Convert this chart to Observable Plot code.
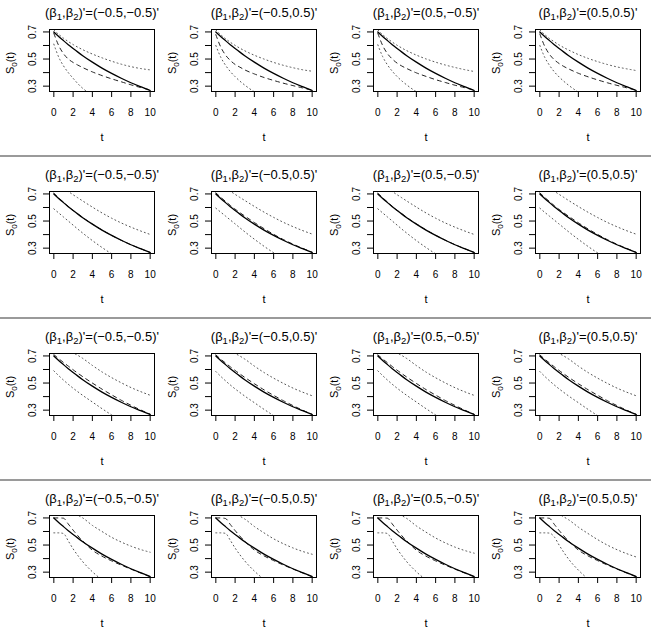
<!DOCTYPE html>
<html><head><meta charset="utf-8">
<script src="https://cdn.jsdelivr.net/npm/d3@7"></script>
<script src="https://cdn.jsdelivr.net/npm/@observablehq/plot@0.6"></script>
<style>
body{margin:0;background:#fff}
#root{position:relative;width:651px;height:634px;overflow:hidden;background:#fff;font-family:"Liberation Sans",Arial,sans-serif}
.cell{position:absolute}
.sep{position:absolute;left:0;width:651px;height:1.5px;background:#9a9a9a}
</style>
</head><body><div id="root"></div>
<script>
// ---- data ----
const tGrid = [0,0.5,1,1.5,2,2.5,3,4,5,6,7,8,9,10];
const xTicks = [0,2,4,6,8,10];
const yTicks = [0.3,0.4,0.5,0.6,0.7];
const yTickLabels = [0.3,0.5,0.7];
const colBetas = ["−0.5,−0.5","−0.5,0.5","0.5,−0.5","0.5,0.5"];

// true baseline survival (solid), same in every panel
const trueS0 = [0.700,0.667,0.636,0.606,0.578,0.551,0.525,0.477,0.433,0.394,0.358,0.325,0.296,0.268];

// row 1
const dashedRow1 = [
 [0.690,0.600,0.540,0.500,0.475,0.455,0.437,0.405,0.378,0.354,0.332,0.310,0.290,0.272],
 [0.680,0.590,0.530,0.490,0.460,0.440,0.420,0.390,0.364,0.342,0.322,0.304,0.287,0.270],
 [0.690,0.600,0.540,0.500,0.470,0.448,0.430,0.398,0.372,0.348,0.327,0.307,0.289,0.271],
 [0.685,0.595,0.535,0.495,0.467,0.445,0.427,0.395,0.369,0.346,0.325,0.306,0.288,0.270]];
const upperRow1 = [
 [0.715,0.682,0.654,0.629,0.607,0.587,0.569,0.537,0.509,0.484,0.462,0.444,0.430,0.420],
 [0.715,0.680,0.650,0.624,0.601,0.580,0.561,0.528,0.500,0.475,0.454,0.436,0.421,0.410],
 [0.715,0.680,0.651,0.625,0.602,0.581,0.562,0.529,0.501,0.477,0.456,0.438,0.422,0.408],
 [0.715,0.681,0.652,0.627,0.604,0.584,0.566,0.533,0.505,0.481,0.460,0.442,0.428,0.415]];
const lowerRow1 = [
 [0.610,0.515,0.450,0.400,0.358,0.318,0.284,0.235],
 [0.600,0.515,0.455,0.408,0.370,0.337,0.308,0.258,0.220],
 [0.605,0.518,0.457,0.410,0.371,0.338,0.309,0.259,0.220],
 [0.600,0.514,0.454,0.406,0.368,0.335,0.306,0.256,0.218]];
// row 2
const dashedRow2 = [
 [0.705,0.671,0.639,0.608,0.579,0.552,0.526,0.478,0.434,0.394,0.358,0.325,0.296,0.268],
 [0.708,0.676,0.645,0.616,0.588,0.562,0.537,0.489,0.444,0.402,0.364,0.330,0.299,0.270],
 [0.705,0.672,0.640,0.609,0.580,0.553,0.527,0.479,0.435,0.395,0.359,0.326,0.296,0.268],
 [0.708,0.675,0.644,0.614,0.586,0.560,0.535,0.487,0.442,0.401,0.363,0.329,0.298,0.269]];
const upperRow2 = [
 [0.790,0.766,0.742,0.718,0.694,0.671,0.648,0.603,0.560,0.521,0.486,0.455,0.427,0.401],
 [0.792,0.768,0.744,0.720,0.697,0.674,0.652,0.608,0.566,0.527,0.491,0.459,0.430,0.404],
 [0.790,0.766,0.742,0.718,0.694,0.671,0.648,0.603,0.560,0.521,0.486,0.455,0.427,0.401],
 [0.792,0.768,0.744,0.720,0.697,0.674,0.651,0.607,0.565,0.526,0.490,0.458,0.429,0.403]];
const lowerRow2 = [
 [0.590,0.560,0.530,0.500,0.470,0.440,0.411,0.356,0.305,0.258,0.218],
 [0.595,0.566,0.537,0.508,0.479,0.450,0.421,0.366,0.314,0.266,0.224],
 [0.590,0.560,0.530,0.500,0.470,0.440,0.411,0.356,0.305,0.258,0.218],
 [0.595,0.565,0.536,0.507,0.478,0.449,0.420,0.365,0.313,0.265,0.223]];
// row 3
const dashedRow3 = [
 [0.710,0.680,0.652,0.625,0.598,0.572,0.547,0.500,0.455,0.413,0.373,0.336,0.302,0.270],
 [0.708,0.677,0.648,0.620,0.593,0.567,0.542,0.495,0.450,0.409,0.370,0.334,0.300,0.269],
 [0.708,0.678,0.650,0.622,0.595,0.569,0.544,0.497,0.452,0.411,0.371,0.335,0.301,0.269],
 [0.708,0.677,0.648,0.620,0.593,0.567,0.542,0.495,0.451,0.410,0.370,0.334,0.300,0.269]];
const upperRow3 = [
 [0.795,0.777,0.759,0.741,0.723,0.704,0.682,0.630,0.582,0.540,0.502,0.467,0.437,0.410],
 [0.790,0.772,0.754,0.736,0.718,0.699,0.677,0.625,0.578,0.536,0.498,0.463,0.433,0.406],
 [0.795,0.777,0.759,0.741,0.722,0.703,0.681,0.629,0.581,0.539,0.501,0.466,0.436,0.409],
 [0.790,0.772,0.754,0.736,0.718,0.699,0.677,0.625,0.578,0.536,0.498,0.463,0.433,0.406]];
const lowerRow3 = [
 [0.590,0.555,0.522,0.491,0.462,0.435,0.409,0.360,0.311,0.265,0.225],
 [0.585,0.550,0.517,0.486,0.457,0.430,0.404,0.355,0.306,0.260,0.220],
 [0.590,0.555,0.522,0.491,0.462,0.435,0.409,0.360,0.311,0.265,0.225],
 [0.585,0.550,0.517,0.486,0.457,0.430,0.404,0.355,0.306,0.260,0.220]];
// row 4
const dashedRow4 = [
 [0.700,0.700,0.698,0.655,0.610,0.568,0.530,0.462,0.418,0.383,0.352,0.322,0.294,0.266],
 [0.700,0.700,0.696,0.652,0.607,0.566,0.528,0.463,0.420,0.385,0.353,0.323,0.294,0.266],
 [0.700,0.700,0.698,0.655,0.610,0.568,0.530,0.462,0.418,0.383,0.352,0.322,0.294,0.266],
 [0.700,0.700,0.697,0.653,0.608,0.567,0.529,0.463,0.420,0.385,0.353,0.323,0.294,0.266]];
const upperRow4 = [
 [0.800,0.790,0.778,0.762,0.742,0.720,0.700,0.645,0.600,0.557,0.522,0.492,0.467,0.447],
 [0.795,0.785,0.772,0.755,0.735,0.713,0.692,0.637,0.590,0.546,0.510,0.479,0.453,0.432],
 [0.798,0.788,0.775,0.759,0.739,0.717,0.696,0.641,0.595,0.552,0.516,0.485,0.460,0.440],
 [0.790,0.778,0.765,0.748,0.728,0.707,0.686,0.632,0.585,0.540,0.500,0.466,0.437,0.412]];
const lowerRow4 = [
 [0.590,0.590,0.585,0.530,0.472,0.422,0.377,0.303,0.243],
 [0.590,0.590,0.586,0.535,0.478,0.428,0.383,0.308,0.247],
 [0.590,0.590,0.585,0.530,0.472,0.422,0.377,0.303,0.243],
 [0.590,0.590,0.588,0.560,0.500,0.445,0.395,0.315,0.250]];

const dashedRows = [dashedRow1,dashedRow2,dashedRow3,dashedRow4];
const upperRows = [upperRow1,upperRow2,upperRow3,upperRow4];
const lowerRows = [lowerRow1,lowerRow2,lowerRow3,lowerRow4];

// ---- drawing ----
const CELL = 162;
const FONT = "Liberation Sans, Arial, Helvetica, sans-serif";
const root = document.getElementById("root");
const toPts = vals => vals.map((v,i)=>({t:tGrid[i], v})).filter(d=>d.v!=null);

function panel(r,c){
  const lineOpts = {x:"t", y:"v", curve:"monotone-x", clip:true};
  const svg = Plot.plot({
    width: CELL, height: CELL,
    marginLeft: 49, marginRight: 8, marginTop: 29, marginBottom: 71,
    x: {domain:[-0.45,10.45]},
    y: {domain:[0.2605,0.718]},
    style: {fontFamily: FONT, fontSize: "10px", background: "transparent", color: "black", overflow: "visible"},
    marks: [
      Plot.line(toPts(upperRows[r][c]), {...lineOpts, stroke:"#555", strokeWidth:1, strokeDasharray:"1,3"}),
      Plot.line(toPts(lowerRows[r][c]), {...lineOpts, stroke:"#555", strokeWidth:1, strokeDasharray:"1,3"}),
      Plot.line(toPts(dashedRows[r][c]), {...lineOpts, stroke:"#222", strokeWidth:1, strokeDasharray:"4,4"}),
      Plot.line(toPts(trueS0), {...lineOpts, stroke:"black", strokeWidth:1.3}),
      Plot.frame({stroke:"black", strokeWidth:1}),
      Plot.axisX(xTicks, {tickSize:6, tickFormat:()=>"", label:null}),
      Plot.axisY(yTicks, {tickSize:6, tickFormat:()=>"", label:null}),
      Plot.text(xTicks, {x:d=>d, text:d=>String(d), frameAnchor:"bottom", dy:21, lineAnchor:"middle", fontSize:10}),
      Plot.text(yTickLabels, {y:d=>d, text:d=>d.toFixed(1), frameAnchor:"left", dx:-17, rotate:-90, textAnchor:"middle", lineAnchor:"middle", fontSize:10}),
      Plot.text(["t"], {text:d=>d, frameAnchor:"bottom", dy:45.5, lineAnchor:"middle", fontSize:11})
    ]
  });
  const s = d3.select(svg);
  // title with subscripts
  const title = s.append("text").attr("x",102).attr("y",16.5).attr("text-anchor","middle")
    .attr("font-size",13).attr("font-family",FONT).attr("fill","black");
  title.append("tspan").text("(β");
  title.append("tspan").attr("dy",3).attr("font-size",9.5).text("1");
  title.append("tspan").attr("dy",-3).text(",β");
  title.append("tspan").attr("dy",3).attr("font-size",9.5).text("2");
  title.append("tspan").attr("dy",-3).text(")'=(" + colBetas[c] + ")'");
  // y label S0(t)
  const yl = s.append("text").attr("transform","translate(14,63) rotate(-90)").attr("text-anchor","middle")
    .attr("font-size",11).attr("font-family",FONT).attr("fill","black");
  yl.append("tspan").text("S");
  yl.append("tspan").attr("dy",3).attr("font-size",8).text("0");
  yl.append("tspan").attr("dy",-3).text("(t)");
  const div = document.createElement("div");
  div.className = "cell";
  div.style.left = (c*CELL) + "px";
  div.style.top = (r*CELL) + "px";
  div.appendChild(svg);
  root.appendChild(div);
}

for (let r=0;r<4;r++) for (let c=0;c<4;c++) panel(r,c);
[155,317,479].forEach(y=>{
  const d = document.createElement("div");
  d.className = "sep"; d.style.top = y + "px";
  root.appendChild(d);
});
</script></body></html>
